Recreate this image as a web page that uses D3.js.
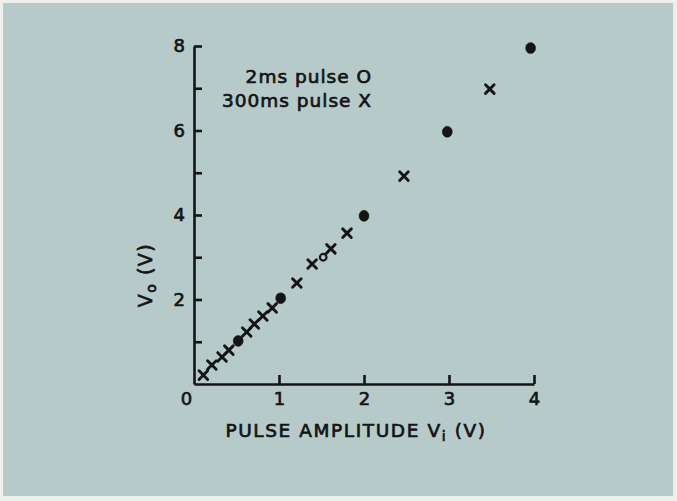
<!DOCTYPE html>
<html><head><meta charset="utf-8">
<script src="https://cdn.jsdelivr.net/npm/d3@7"></script>
<style>html,body{margin:0;padding:0;background:#eef0ee;}svg{display:block;}</style>
</head><body>
<script>
// 300 ms pulse (X markers)
const vin300 = [0.11,0.21,0.33,0.41,0.62,0.71,0.81,0.92,1.21,1.39,1.61,1.80,2.47,3.48];
const vout300 = [0.21,0.45,0.64,0.80,1.23,1.42,1.61,1.80,2.39,2.84,3.20,3.57,4.92,6.98];
// 2 ms pulse (O markers)
const vin2 = [0.52,1.02,1.52,2.0,2.98,3.96];
const vout2 = [1.02,2.03,3.0,3.98,5.97,7.95];
const open2 = [false,false,true,false,false,false];
const xTicks = [1,2,3,4];
const xLabels = [0,1,2,3,4];
const yTicks = [1,2,3,4,5,6,7,8];
const yLabels = [2,4,6,8];
const legendLabels = ["2ms pulse O","300ms pulse X"];

const W=677,H=501;
const svg=d3.select("body").append("svg").attr("width",W).attr("height",H);
svg.append("rect").attr("x",0).attr("y",0).attr("width",W).attr("height",H).attr("fill","#eef0ee");
svg.append("rect").attr("x",3).attr("y",3).attr("width",670).attr("height",493).attr("fill","#b7caca");

const x=d3.scaleLinear().domain([0,4]).range([194,534]);
const y=d3.scaleLinear().domain([0,8]).range([384,46]);
const ink="#141414";
const font="'DejaVu Sans', sans-serif";
function heavy(sel){return sel.attr("stroke",ink).attr("stroke-width",0.7).attr("paint-order","stroke");}

// x axis
const xa=svg.append("g").attr("transform",`translate(0,${y(0)})`)
  .call(d3.axisBottom(x).tickValues(xTicks).tickSizeInner(-9).tickSizeOuter(0).tickFormat(()=>""));
xa.selectAll("path,line").attr("stroke",ink).attr("stroke-width",2.6);
// x labels
const xl=svg.append("g").attr("transform",`translate(0,${y(0)})`)
  .call(d3.axisBottom(x).tickValues(xLabels).tickSize(0).tickPadding(8).tickFormat(d3.format("d")));
xl.select(".domain").remove();
xl.selectAll("text").attr("fill",ink).attr("font-family",font).attr("font-size",18)
  .attr("transform",d=>d===0?"translate(-8,0)":null).call(heavy);

// y axis
const ya=svg.append("g").attr("transform",`translate(${x(0)},0)`)
  .call(d3.axisLeft(y).tickValues(yTicks).tickSizeInner(-8).tickSizeOuter(0).tickPadding(9)
    .tickFormat(d=>yLabels.includes(d)?d:""));
ya.selectAll("path,line").attr("stroke",ink).attr("stroke-width",2.6);
ya.selectAll("text").attr("fill",ink).attr("font-family",font).attr("font-size",18).call(heavy);

// axis titles
const xt=svg.append("text").attr("x",356).attr("y",437).attr("text-anchor","middle")
  .attr("font-family",font).attr("font-size",18.5).attr("fill",ink).attr("letter-spacing",1.6).call(heavy);
xt.append("tspan").text("PULSE AMPLITUDE V");
xt.append("tspan").attr("dy",4).attr("font-size",14).text("i");
xt.append("tspan").attr("dy",-4).text(" (V)");

const yt=svg.append("text").attr("transform","translate(152,275) rotate(-90)").attr("text-anchor","middle")
  .attr("font-family",font).attr("font-size",19).attr("fill",ink).attr("letter-spacing",1.5).call(heavy);
yt.append("tspan").text("V");
yt.append("tspan").attr("dy",4).attr("font-size",14).text("o");
yt.append("tspan").attr("dy",-4).text(" (V)");

// legend
svg.selectAll("text.leg").data(legendLabels).join("text").attr("class","leg")
  .attr("x",372).attr("y",(d,i)=>83+i*24).attr("text-anchor","end")
  .attr("font-family",font).attr("font-size",18.5).attr("fill",ink).attr("letter-spacing",1.0)
  .call(heavy).text(d=>d);

// X markers
const s=4.3;
const gx=svg.append("g").attr("stroke",ink).attr("stroke-width",2.9).attr("stroke-linecap","round");
vin300.forEach((v,i)=>{
  const cx=x(v),cy=y(vout300[i]);
  gx.append("path").attr("d",`M${cx-s},${cy-s}L${cx+s},${cy+s}M${cx+s},${cy-s}L${cx-s},${cy+s}`);
});
// O markers
svg.append("g").selectAll("ellipse").data(vin2).join("ellipse")
  .attr("cx",d=>x(d)).attr("cy",(d,i)=>y(vout2[i]))
  .attr("rx",(d,i)=>open2[i]?3.3:5).attr("ry",(d,i)=>open2[i]?3.3:5.5)
  .attr("fill",(d,i)=>open2[i]?"none":ink).attr("stroke",ink).attr("stroke-width",(d,i)=>open2[i]?2.2:0.5);
</script>
</body></html>
